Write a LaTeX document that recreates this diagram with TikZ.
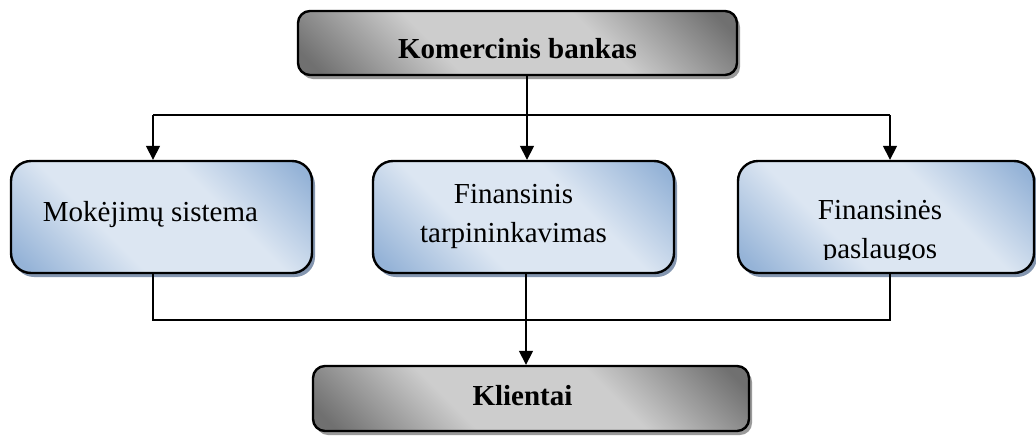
\documentclass[tikz,border=0pt]{standalone}
\usepackage{fontspec}
\setmainfont{Liberation Serif}
\usetikzlibrary{arrows.meta,shadows}
\definecolor{gdark}{HTML}{707070}
\definecolor{glight}{HTML}{CDCDCD}
\definecolor{bdark}{HTML}{95B3D7}
\definecolor{blight}{HTML}{DCE6F2}
\definecolor{gshadow}{HTML}{9A9A9A}
\definecolor{bshadow}{HTML}{8496B0}
\pgfdeclarehorizontalshading{grayshd}{100bp}{color(0bp)=(gdark); color(18bp)=(gdark); color(38bp)=(glight); color(62bp)=(glight); color(82bp)=(gdark); color(100bp)=(gdark)}
\pgfdeclarehorizontalshading{blueshd}{100bp}{color(0bp)=(bdark); color(18bp)=(bdark); color(38bp)=(blight); color(62bp)=(blight); color(82bp)=(bdark); color(100bp)=(bdark)}
\tikzset{
  graybox/.style={draw=black, line width=2.4pt, rounded corners=12pt, shading=grayshd, shading angle=45,
    drop shadow={shadow xshift=3pt, shadow yshift=-4pt, fill=gshadow, opacity=1}},
  bluebox/.style={draw=black, line width=2.4pt, rounded corners=20pt, shading=blueshd, shading angle=45,
    drop shadow={shadow xshift=3pt, shadow yshift=-4pt, fill=bshadow, opacity=1}},
  boldtxt/.style={font=\fontsize{29}{32}\selectfont\bfseries, inner sep=0pt, anchor=base},
  regtxt/.style={font=\fontsize{29}{39}\selectfont, inner sep=0pt, align=center, anchor=base},
  conn/.style={line width=1.6pt},
  arr/.style={line width=1.6pt, -{Triangle[width=14pt,length=14pt]}}
}
\begin{document}
\begin{tikzpicture}[x=1pt,y=-1pt]
\clip (0,0) rectangle (1036,437);
\fill[white] (0,0) rectangle (1036,437);
% boxes
\node[graybox, minimum width=439pt, minimum height=64pt] (top) at (517.5,43) {};
\node[bluebox, minimum width=301pt, minimum height=112pt] (m1) at (161.5,217) {};
\node[bluebox, minimum width=301pt, minimum height=112pt] (m2) at (523.5,217) {};
\node[bluebox, minimum width=296pt, minimum height=112pt] (m3) at (886,217) {};
\node[graybox, minimum width=436pt, minimum height=65pt] (bot) at (531,398.5) {};
% texts
\node[boldtxt] (ttop) at (517.5,58) {Komercinis bankas};
\node[boldtxt] (tbot) at (522.5,405) {Klientai};
\node[regtxt] (t1) at (150.5,221) {Mokėjimų sistema};
\node[regtxt] (t2) at (513.5,242) {Finansinis\\tarpininkavimas};
\begin{scope}
\clip (737,160) rectangle (1034,259);
\node[regtxt] (t3) at (880,258) {Finansinės\\paslaugos};
\end{scope}
% connectors
\coordinate (jt) at (527,115);
\coordinate (jl) at (153,115);
\coordinate (jr) at (890,115);
\coordinate (bl) at (153,320);
\coordinate (br) at (890,320);
\coordinate (bm) at (526,320);
\draw[arr] (jt |- top.south) -- (jt |- m2.north);
\draw[conn] (jl) -- (jr);
\draw[arr] (jl) -- (jl |- m1.north);
\draw[arr] (jr) -- (jr |- m3.north);
\draw[conn] (bl |- m1.south) -- (bl) -- (br) -- (br |- m3.south);
\draw[arr] (bm |- m2.south) -- (bm |- bot.north);
\end{tikzpicture}
\end{document}
